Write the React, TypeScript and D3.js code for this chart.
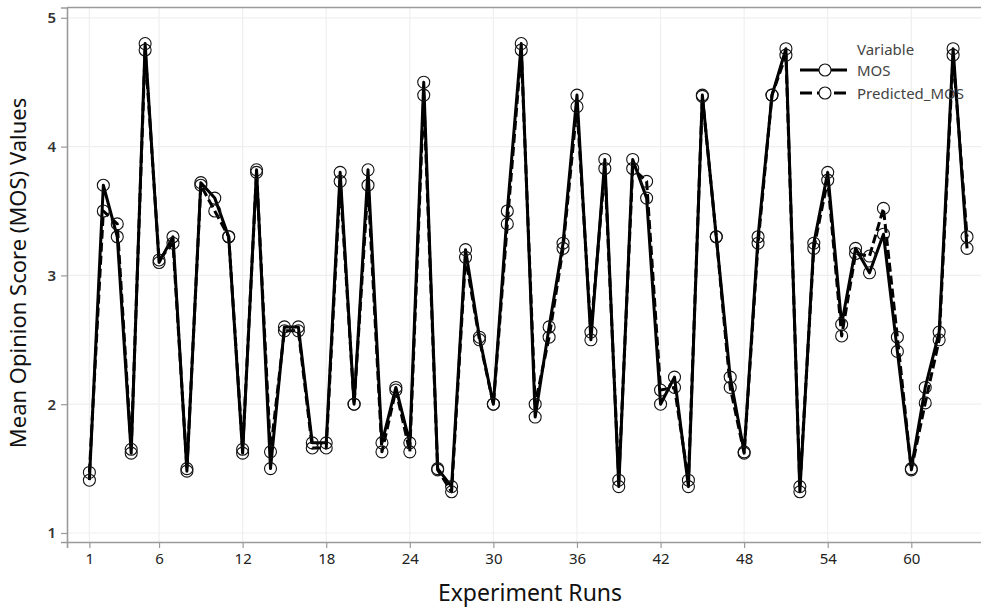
import React, { useEffect, useRef } from "react";
import * as d3 from "d3";

const runs: number[] = d3.range(1, 65);

const mos: number[] = [
  1.41, 3.7, 3.3, 1.62, 4.8, 3.1, 3.3, 1.48, 3.72, 3.6,
  3.3, 1.62, 3.82, 1.5, 2.6, 2.6, 1.7, 1.7, 3.8, 2.0,
  3.82, 1.7, 2.13, 1.7, 4.5, 1.5, 1.36, 3.2, 2.52, 2.0,
  3.5, 4.8, 1.9, 2.6, 3.25, 4.4, 2.5, 3.9, 1.36, 3.9,
  3.6, 2.0, 2.21, 1.36, 4.4, 3.3, 2.21, 1.63, 3.3, 4.4,
  4.76, 1.32, 3.25, 3.8, 2.62, 3.21, 3.02, 3.32, 2.41, 1.5,
  2.13, 2.56, 4.76, 3.21,
];

const predictedMos: number[] = [
  1.47, 3.5, 3.4, 1.65, 4.75, 3.12, 3.25, 1.5, 3.7, 3.5,
  3.3, 1.65, 3.8, 1.63, 2.57, 2.57, 1.66, 1.66, 3.73, 2.0,
  3.7, 1.63, 2.11, 1.63, 4.4, 1.49, 1.32, 3.14, 2.5, 2.0,
  3.4, 4.75, 2.0, 2.52, 3.21, 4.31, 2.56, 3.83, 1.41, 3.83,
  3.73, 2.11, 2.13, 1.41, 4.39, 3.3, 2.13, 1.62, 3.25, 4.4,
  4.71, 1.36, 3.21, 3.74, 2.53, 3.17, 3.15, 3.52, 2.52, 1.49,
  2.01, 2.5, 4.71, 3.3,
];

const xTicks: number[] = [1, 6, 12, 18, 24, 30, 36, 42, 48, 54, 60];
const yTicks: number[] = [1, 2, 3, 4, 5];
const seriesNames: string[] = ["MOS", "Predicted_MOS"];

export default function App() {
  const ref = useRef<SVGSVGElement>(null);

  useEffect(() => {
    const width = 981;
    const height = 607;
    const svg = d3.select(ref.current);
    svg.selectAll("*").remove();

    const left = 67;
    const top = 7.5;
    const bottom = 542;
    const right = 985;
    const font = "'Noto Sans', 'Open Sans', sans-serif";

    const x = d3.scaleLinear().domain([-0.608, 65.29]).range([left, right]);
    const y = d3.scaleLinear().domain([0.93, 5.08]).range([bottom, top]);

    svg.attr("width", width).attr("height", height);

    svg
      .append("rect")
      .attr("x", left)
      .attr("y", top)
      .attr("width", right - left)
      .attr("height", bottom - top)
      .attr("fill", "#ffffff");

    // grid
    const grid = svg.append("g");
    grid
      .selectAll("line.gx")
      .data(xTicks)
      .enter()
      .append("line")
      .attr("x1", (d) => x(d))
      .attr("x2", (d) => x(d))
      .attr("y1", top)
      .attr("y2", bottom)
      .attr("stroke", "#efefef")
      .attr("stroke-width", 1.2);
    grid
      .selectAll("line.gy")
      .data(yTicks)
      .enter()
      .append("line")
      .attr("x1", left)
      .attr("x2", right)
      .attr("y1", (d) => y(d))
      .attr("y2", (d) => y(d))
      .attr("stroke", "#efefef")
      .attr("stroke-width", 1.2);

    // axes
    const xAxis = svg
      .append("g")
      .attr("transform", `translate(0,${bottom})`)
      .call(d3.axisBottom(x).tickValues(xTicks).tickSize(6).tickPadding(5).tickFormat(d3.format("d")));
    xAxis.select(".domain").attr("stroke", "#9a9a9a").attr("stroke-width", 1.6);
    xAxis.selectAll(".tick line").attr("stroke", "#9a9a9a").attr("stroke-width", 1.2);
    xAxis
      .selectAll(".tick text")
      .attr("font-family", font)
      .attr("font-size", 15)
      .attr("fill", "#222");

    const yAxis = svg
      .append("g")
      .attr("transform", `translate(${left},0)`)
      .call(d3.axisLeft(y).tickValues(yTicks).tickSize(6).tickPadding(5).tickFormat(d3.format("d")));
    yAxis.select(".domain").attr("stroke", "#9a9a9a").attr("stroke-width", 1.6);
    yAxis.selectAll(".tick line").attr("stroke", "#9a9a9a").attr("stroke-width", 1.2);
    yAxis
      .selectAll(".tick text")
      .attr("font-family", font)
      .attr("font-size", 15)
      .attr("font-weight", 600)
      .attr("fill", "#333");

    // top border
    svg
      .append("line")
      .attr("x1", left)
      .attr("x2", right)
      .attr("y1", top)
      .attr("y2", top)
      .attr("stroke", "#9a9a9a")
      .attr("stroke-width", 1.6);

    const line = d3
      .line<number>()
      .x((_, i) => x(runs[i]))
      .y((d) => y(d));

    const series = [
      { name: seriesNames[0], values: mos, dash: null },
      { name: seriesNames[1], values: predictedMos, dash: "9,4" },
    ];

    series.forEach((s) => {
      svg
        .append("path")
        .datum(s.values)
        .attr("d", line)
        .attr("fill", "none")
        .attr("stroke", "#000")
        .attr("stroke-width", 3)
        .attr("stroke-linejoin", "round")
        .attr("stroke-dasharray", s.dash);
    });

    series.forEach((s) => {
      svg
        .append("g")
        .selectAll("circle")
        .data(s.values)
        .enter()
        .append("circle")
        .attr("cx", (_, i) => x(runs[i]))
        .attr("cy", (d) => y(d))
        .attr("r", 6)
        .attr("fill", "none")
        .attr("stroke", "#111")
        .attr("stroke-width", 1.1);
    });

    // legend
    const legend = svg.append("g").attr("font-family", font).attr("fill", "#444");
    legend
      .append("text")
      .attr("x", 857)
      .attr("y", 55)
      .attr("font-size", 15)
      .text("Variable");
    series.forEach((s, i) => {
      const ly = 70 + i * 23;
      legend
        .append("line")
        .attr("x1", 800)
        .attr("x2", 847)
        .attr("y1", ly)
        .attr("y2", ly)
        .attr("stroke", "#000")
        .attr("stroke-width", 3)
        .attr("stroke-dasharray", s.dash ? "12,5" : null);
      legend
        .append("circle")
        .attr("cx", 825)
        .attr("cy", ly)
        .attr("r", 6)
        .attr("fill", "#fff")
        .attr("stroke", "#111")
        .attr("stroke-width", 1.1);
      legend
        .append("text")
        .attr("x", 857)
        .attr("y", ly + 6)
        .attr("font-size", 15)
        .text(s.name);
    });

    // axis titles
    svg
      .append("text")
      .attr("x", 530)
      .attr("y", 601)
      .attr("text-anchor", "middle")
      .attr("font-family", font)
      .attr("font-size", 23)
      .attr("fill", "#111")
      .text("Experiment Runs");

    svg
      .append("text")
      .attr("transform", `translate(26,273) rotate(-90)`)
      .attr("text-anchor", "middle")
      .attr("font-family", font)
      .attr("font-size", 22)
      .attr("fill", "#111")
      .text("Mean Opinion Score (MOS) Values");
  }, []);

  return (
    <svg
      ref={ref}
      style={{ position: "absolute", left: 0, top: 0, background: "#fff" }}
    />
  );
}
